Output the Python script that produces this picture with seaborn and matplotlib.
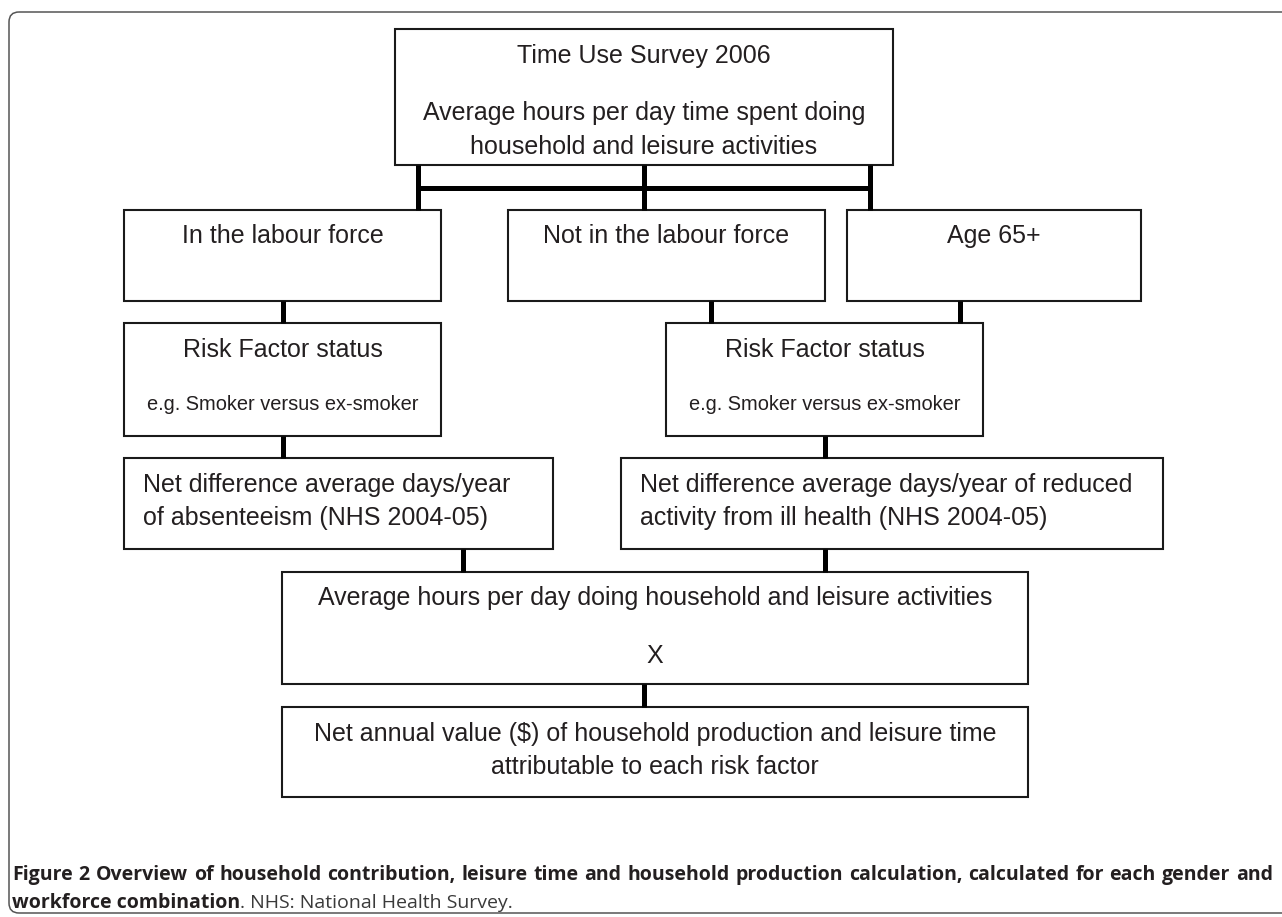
import matplotlib
matplotlib.use('Agg')
import matplotlib.pyplot as plt
import seaborn as sns
from matplotlib.patches import Rectangle, FancyBboxPatch

# texts of the flow chart
survey_title  = 'Time Use Survey 2006'
survey_desc   = ['Average hours per day time spent doing',
                 'household and leisure activities']
groups        = ['In the labour force', 'Not in the labour force', 'Age 65+']
risk_title    = 'Risk Factor status'
risk_example  = 'e.g. Smoker versus ex-smoker'
net_left      = ['Net difference average days/year',
                 'of absenteeism (NHS 2004-05)']
net_right     = ['Net difference average days/year of reduced',
                 'activity from ill health (NHS 2004-05)']
avg_lines     = ['Average hours per day doing household and leisure activities', 'X']
result_lines  = ['Net annual value ($) of household production and leisure time',
                 'attributable to each risk factor']
caption_line1 = ('Figure 2 Overview of household contribution, leisure time and household '
                 'production calculation, calculated for each gender and')
caption_bold2 = 'workforce combination'
caption_rest2 = '. NHS: National Health Survey.'

# layout in pixels (x0, y0, x1, y1), y going down
boxes = {
    'survey':  (395, 29, 893, 165),
    'labour':  (124, 210, 441, 301),
    'notlab':  (508, 210, 825, 301),
    'age':     (847, 210, 1141, 301),
    'risk_l':  (124, 323, 441, 436),
    'risk_r':  (666, 323, 983, 436),
    'net_l':   (124, 458, 553, 549),
    'net_r':   (621, 458, 1163, 549),
    'avg':     (282, 572, 1028, 684),
    'result':  (282, 707, 1028, 797),
}
links = [(418, 165, 210), (644, 165, 210), (870, 165, 210),
         (283, 301, 323), (711, 301, 323), (960, 301, 323),
         (283, 436, 458), (825, 436, 458),
         (463, 549, 572), (825, 549, 572),
         (644, 684, 707)]

sns.set_theme(style='white')
plt.rcParams['font.family'] = ['Liberation Sans', 'DejaVu Sans']

W, H = 1282, 917
fig = plt.figure(figsize=(W / 100, H / 100), dpi=100)
ax = fig.add_axes([0, 0, 1, 1])
ax.set_xlim(0, W)
ax.set_ylim(H, 0)
ax.axis('off')

# outer frame
ax.add_patch(FancyBboxPatch((9, 12), 1300, 901, boxstyle='round,pad=0,rounding_size=10',
                            fill=False, ec='#555555', lw=1.1))

for x0, y0, x1, y1 in boxes.values():
    ax.add_patch(Rectangle((x0, y0), x1 - x0, y1 - y0, fill=False, ec='#1a1a1a', lw=1.5))

for x, ya, yb in links:
    ax.plot([x, x], [ya, yb], color='black', lw=3.6, solid_capstyle='butt')
ax.plot([416, 872], [188, 188], color='black', lw=3.6, solid_capstyle='butt')

txt = dict(color='#231f20', va='baseline')
big, small = 18, 14.4


def centre(key):
    x0, _, x1, _ = boxes[key]
    return (x0 + x1) / 2


ax.text(centre('survey'), 63, survey_title, ha='center', fontsize=big, **txt)
ax.text(centre('survey'), 120, survey_desc[0], ha='center', fontsize=big, **txt)
ax.text(centre('survey'), 154, survey_desc[1], ha='center', fontsize=big, **txt)

for key, label in zip(['labour', 'notlab', 'age'], groups):
    ax.text(centre(key), 243, label, ha='center', fontsize=big, **txt)

for key in ['risk_l', 'risk_r']:
    ax.text(centre(key), 357, risk_title, ha='center', fontsize=big, **txt)
    ax.text(centre(key), 410, risk_example, ha='center', fontsize=small, **txt)

for key, lines in [('net_l', net_left), ('net_r', net_right)]:
    x0 = boxes[key][0] + 19
    ax.text(x0, 492, lines[0], ha='left', fontsize=big, **txt)
    ax.text(x0, 525, lines[1], ha='left', fontsize=big, **txt)

ax.text(centre('avg'), 605, avg_lines[0], ha='center', fontsize=big, **txt)
ax.text(centre('avg'), 663, avg_lines[1], ha='center', fontsize=big, **txt)
ax.text(centre('result'), 741, result_lines[0], ha='center', fontsize=big, **txt)
ax.text(centre('result'), 774, result_lines[1], ha='center', fontsize=big, **txt)

# caption, first line justified across the page
renderer = fig.canvas.get_renderer()
cap = dict(family=['Open Sans', 'DejaVu Sans'], color='#231f20', va='baseline')
cx0, cx1 = 12, 1273
probe = ax.text(0, 0, caption_line1, fontsize=12, weight='bold', **cap)
natural = probe.get_window_extent(renderer).width
probe.remove()
cap_size = 12 * (cx1 - cx0) * 0.985 / natural

words = caption_line1.split(' ')
items = [ax.text(0, 880, w, fontsize=cap_size, weight='bold', **cap) for w in words]
widths = [t.get_window_extent(renderer).width for t in items]
gap = (cx1 - cx0 - sum(widths)) / (len(words) - 1)
x = cx0
for t, w in zip(items, widths):
    t.set_x(x)
    x += w + gap

b2 = ax.text(cx0, 908, caption_bold2, fontsize=cap_size, weight='bold', **cap)
bw = b2.get_window_extent(renderer).width
ax.text(cx0 + bw, 908, caption_rest2, fontsize=cap_size, weight='normal',
        family=['Open Sans', 'DejaVu Sans'], color='#3a3a3a', va='baseline')

fig.savefig('out.png', dpi=100, facecolor='white')
